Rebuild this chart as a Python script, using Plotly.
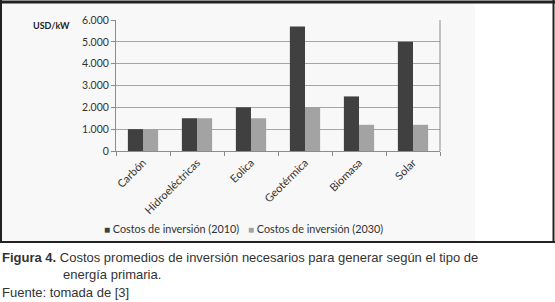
import plotly.graph_objects as go

categories = ["Carbón", "Hidroeléctricas", "Eolica", "Geotérmica", "Biomasa", "Solar"]
costs_2010 = [1000, 1500, 2000, 5700, 2500, 5000]
costs_2030 = [1000, 1500, 1500, 2000, 1200, 1200]
series_names = ["Costos de inversión (2010)", "Costos de inversión (2030)"]
series_colors = ["#404040", "#a3a3a3"]
y_ticks = [0, 1000, 2000, 3000, 4000, 5000, 6000]
y_tick_labels = ["0", "1.000", "2.000", "3.000", "4.000", "5.000", "6.000"]

W, H = 555, 302
L, R, T, B = 116, 440, 20, 151  # plot area in pixels


def px(x):
    return (x - L) / (R - L)


def py(y):
    return (B - y) / (B - T)


fig = go.Figure()
for vals, name, col in zip([costs_2010, costs_2030], series_names, series_colors):
    fig.add_trace(go.Bar(x=categories, y=vals, name=name,
                         marker=dict(color=col, line=dict(width=0))))

tickfont = dict(family="Lato, Open Sans, sans-serif", size=10.5, color="#333333")

fig.update_layout(
    width=W, height=H,
    margin=dict(l=L, r=W - R, t=T, b=H - B),
    paper_bgcolor="white",
    plot_bgcolor="rgba(0,0,0,0)",
    barmode="group",
    bargap=0.44,
    bargroupgap=0.0,
    showlegend=False,
    xaxis=dict(tickangle=-45, tickfont=dict(tickfont, size=11), showline=True,
               linecolor="#8c8c8c", linewidth=1, ticks="outside", ticklen=4,
               tickcolor="#8c8c8c", tickson="boundaries", showgrid=False, mirror=False),
    yaxis=dict(range=[0, 6000], tickvals=y_ticks, ticktext=y_tick_labels,
               tickfont=tickfont, showline=True, linecolor="#8c8c8c", linewidth=1,
               ticks="outside", ticklen=4, tickcolor="#8c8c8c",
               showgrid=True, gridcolor="#a6a6a6", gridwidth=1, zeroline=False),
)

# right border of plot area
fig.add_shape(type="line", xref="paper", yref="paper", x0=1, x1=1, y0=0, y1=1,
              line=dict(color="#8c8c8c", width=1))
# light background of chart area
fig.add_shape(type="rect", xref="paper", yref="paper", x0=px(2), x1=px(475),
              y0=py(241), y1=py(3), fillcolor="#f8f8f8", line=dict(width=0), layer="below")
# outer frame (drawn as four separate edges)
frame_col = "#222222"
fig.add_shape(type="line", xref="paper", yref="paper", x0=px(0), x1=px(555),
              y0=py(2), y1=py(2), line=dict(color=frame_col, width=3))
fig.add_shape(type="line", xref="paper", yref="paper", x0=px(1), x1=px(1),
              y0=py(0), y1=py(242.5), line=dict(color=frame_col, width=2))
fig.add_shape(type="line", xref="paper", yref="paper", x0=px(553.5), x1=px(553.5),
              y0=py(0), y1=py(242.5), line=dict(color=frame_col, width=2))
fig.add_shape(type="line", xref="paper", yref="paper", x0=px(0), x1=px(555),
              y0=py(242), y1=py(242), line=dict(color=frame_col, width=2))

# legend
legfont = dict(family="Lato, Open Sans, sans-serif", size=10.8, color="#333333")
leg_x = [102, 246]
for name, col, lx in zip(series_names, series_colors, leg_x):
    fig.add_annotation(xref="paper", yref="paper", x=px(lx), y=py(229), xanchor="left",
                       yanchor="middle", showarrow=False, font=legfont,
                       text=f"<span style='color:{col}; font-size:10px'>■</span> {name}")

fig.add_annotation(xref="paper", yref="paper", x=px(31), y=py(26), xanchor="left",
                   yanchor="middle", showarrow=False, text="<b>USD/kW</b>",
                   font=dict(family="Lato, Open Sans, sans-serif", size=9, color="#222222"))

capfont = dict(family="Liberation Sans, Arial, sans-serif", size=13, color="#333333")
fig.add_annotation(xref="paper", yref="paper", x=px(0), y=py(257), xanchor="left",
                   yanchor="middle", showarrow=False, font=capfont,
                   text="<b>Figura 4.</b> Costos promedios de inversión necesarios para generar según el tipo de")
fig.add_annotation(xref="paper", yref="paper", x=px(61), y=py(274), xanchor="left",
                   yanchor="middle", showarrow=False, font=capfont,
                   text="energía primaria.")
fig.add_annotation(xref="paper", yref="paper", x=px(0), y=py(292), xanchor="left",
                   yanchor="middle", showarrow=False, font=capfont,
                   text="Fuente: tomada de [3]")

fig.write_html("out.html", config={"displayModeBar": False},
               post_script="document.body.style.margin='0';")
